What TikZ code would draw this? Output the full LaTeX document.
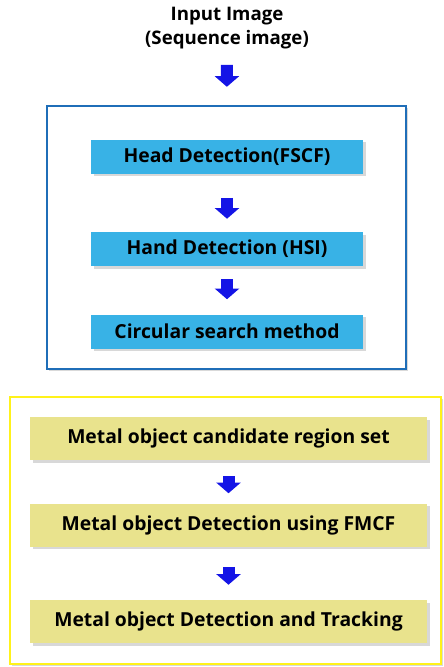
\documentclass[tikz,border=0pt]{standalone}
\usepackage{fontspec}
\setmainfont{Open Sans}
\usetikzlibrary{arrows.meta, shadows, positioning}
\definecolor{boxblue}{HTML}{38B2E6}
\definecolor{boxyellow}{HTML}{E9E38D}
\definecolor{frameblue}{HTML}{1F6EB8}
\definecolor{frameyellow}{HTML}{FFF21A}
\definecolor{arrowblue}{HTML}{1414E6}
\tikzstyle{frame} = [rectangle, fill=white, drop shadow={shadow xshift=1.5pt, shadow yshift=-1.5pt, opacity=0.3}]
\tikzstyle{stage} = [rectangle, minimum width=204pt, minimum height=25.5pt, text centered, fill=boxblue, font=\fontsize{14.5}{17}\selectfont\bfseries, drop shadow={shadow xshift=2pt, shadow yshift=-2pt, opacity=0.3}]
\tikzstyle{metal} = [stage, minimum width=297.75pt, minimum height=32.25pt, fill=boxyellow]
\tikzstyle{flow} = [line width=9pt, arrowblue, -{Triangle[width=18pt, length=8pt]}]

\begin{document}
\begin{tikzpicture}[x=0.75pt, y=-0.75pt]
    \useasboundingbox (0,0) rectangle (443,667);

    % Input
    \node (input) [align=center, inner sep=0pt, font=\fontsize{14}{17.5}\selectfont\bfseries] at (227,28) {Input Image\\(Sequence image)};

    % Frames
    \node (handframe) [frame, draw=frameblue, line width=1.8pt, minimum width=269.25pt, minimum height=197.25pt] at (226.5,237.5) {};
    \node (metalframe) [frame, draw=frameyellow, line width=2pt, minimum width=323.25pt, minimum height=200.25pt] at (225.5,530.5) {};

    % Head and hand
    \node (head) [stage] at (227,156.5) {Head Detection(FSCF)};
    \node (hand) [stage] at (227,249) {Hand Detection (HSI)};
    \node (circle) [stage] at (227,331.5) {Circular search method};

    % Metal object
    \node (candidate) [metal] at (228.5,438.5) {Metal object candidate region set};
    \node (fmcf) [metal] at (228.5,525) {Metal object Detection using FMCF};
    \node (tracking) [metal] at (228.5,621.5) {Metal object Detection and Tracking};

    % Arrows
    \draw [flow, shorten <=12pt, shorten >=13.5pt] (input) -- (handframe);
    \draw [flow, shorten <=18pt, shorten >=9.75pt] (head) -- (hand);
    \draw [flow, shorten <=9.75pt, shorten >=11.25pt] (hand) -- (circle);
    \draw [flow, shorten <=12pt, shorten >=7.5pt] (candidate) -- (fmcf);
    \draw [flow, shorten <=15pt, shorten >=11.25pt] (fmcf) -- (tracking);
\end{tikzpicture}
\end{document}
